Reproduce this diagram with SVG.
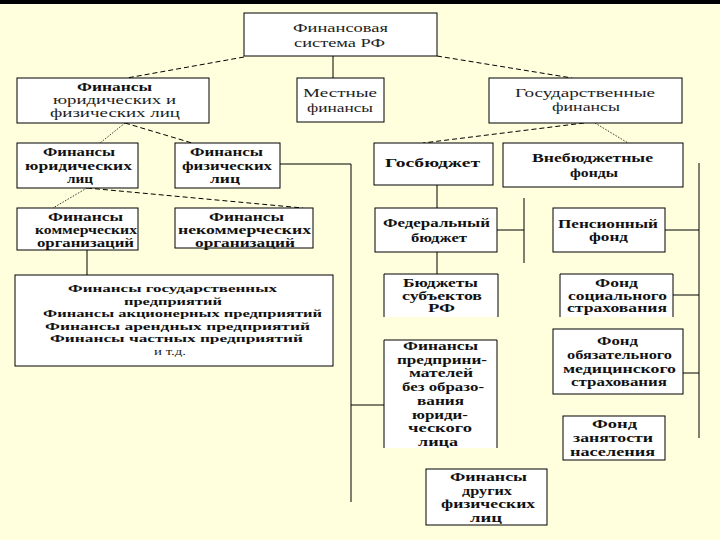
<svg xmlns="http://www.w3.org/2000/svg" width="720" height="540" viewBox="0 0 720 540">
<style>
.bg{fill:#FFFFDE}
.box{fill:#FFFFFF;stroke:#000;stroke-width:1}
.nob{fill:#FFFFFF;stroke:none}
.edge{fill:none;stroke:#000;stroke-width:1}
.ln{fill:none;stroke:#000;stroke-width:1}
.dash{fill:none;stroke:#000;stroke-width:1;stroke-dasharray:5 3}
.dot{fill:none;stroke:#000;stroke-width:0.8;stroke-dasharray:1.5 1.5}
.tx{font-family:"Liberation Serif","DejaVu Serif",serif;font-size:11.5px;fill:#111;font-weight:bold}
.tx .lt{font-weight:normal;fill:#222}
.sm{font-size:10.5px}
</style>
<rect class="bg" x="0" y="0" width="720" height="540"/>
<rect x="0" y="0" width="720" height="4" fill="#000"/>

<g id="connectors">
<path class="dash" d="M244,57 L127,78"/>
<path class="ln" d="M333,56 V78"/>
<path class="dash" d="M437,56 L572,78"/>
<path class="dot" d="M125,123 L100,143"/>
<path class="dash" d="M125,123 L192,143"/>
<path class="ln" d="M280,164 H351 V502"/>
<path class="dot" d="M87,188 L53,208"/>
<path class="dash" d="M87,188 L303,208"/>
<path class="ln" d="M87,250 V275"/>
<path class="dash" d="M592,122 L423,143"/>
<path class="dot" d="M595,123 L628,143"/>
<path class="ln" d="M437,185 V208"/>
<path class="ln" d="M497,230 H524 M524,198 V263"/>
<path class="ln" d="M699,163 V438 M665,230 H699 M673,295 H699 M683,373 H699"/>
<path class="ln" d="M437,252 V274"/>
<path class="ln" d="M351,405 H384"/>
</g>

<g class="tx" font-family="Liberation Serif, DejaVu Serif, serif">
<g id="n-system">
<rect class="box" x="244" y="13" width="193" height="43"/>
<text class="lt" x="293" y="32" textLength="95" lengthAdjust="spacingAndGlyphs">Финансовая</text>
<text class="lt" x="294" y="47" textLength="91" lengthAdjust="spacingAndGlyphs">система РФ</text>
</g>

<g id="n-local">
<rect class="box" x="297" y="78" width="87" height="44"/>
<text class="lt" x="303" y="97" textLength="74" lengthAdjust="spacingAndGlyphs">Местные</text>
<text class="lt" x="307" y="112" textLength="66" lengthAdjust="spacingAndGlyphs">финансы</text>
</g>

<g id="n-state">
<rect class="box" x="489" y="78" width="193" height="45"/>
<text class="lt" x="515" y="97" textLength="140" lengthAdjust="spacingAndGlyphs">Государственные</text>
<text class="lt" x="552" y="111" textLength="68" lengthAdjust="spacingAndGlyphs">финансы</text>
</g>

<g id="n-jurphys">
<rect class="box" x="17" y="78" width="192" height="45"/>
<text x="77" y="91" textLength="75" lengthAdjust="spacingAndGlyphs">Финансы</text>
<text class="lt" x="53" y="104" textLength="123" lengthAdjust="spacingAndGlyphs">юридических и</text>
<text class="lt" x="50" y="117" textLength="130" lengthAdjust="spacingAndGlyphs">физических лиц</text>
</g>

<g id="n-jur">
<rect class="box" x="17" y="143" width="121" height="45"/>
<text x="43" y="156" textLength="72" lengthAdjust="spacingAndGlyphs">Финансы</text>
<text x="25" y="170" textLength="107" lengthAdjust="spacingAndGlyphs">юридических</text>
<text x="67" y="183" textLength="26" lengthAdjust="spacingAndGlyphs">лиц</text>
</g>

<g id="n-phys">
<rect class="box" x="175" y="143" width="105" height="45"/>
<text x="190" y="156" textLength="73" lengthAdjust="spacingAndGlyphs">Финансы</text>
<text x="182" y="170" textLength="90" lengthAdjust="spacingAndGlyphs">физических</text>
<text x="210" y="183" textLength="30" lengthAdjust="spacingAndGlyphs">лиц</text>
</g>

<g id="n-comm">
<rect class="box" x="17" y="208" width="121" height="42"/>
<text x="48" y="221" textLength="75" lengthAdjust="spacingAndGlyphs">Финансы</text>
<text x="35" y="234" textLength="102" lengthAdjust="spacingAndGlyphs">коммерческих</text>
<text x="37" y="247" textLength="97" lengthAdjust="spacingAndGlyphs">организаций</text>
</g>

<g id="n-noncomm">
<rect class="box" x="175" y="208" width="138" height="40"/>
<text x="209" y="221" textLength="75" lengthAdjust="spacingAndGlyphs">Финансы</text>
<text x="178" y="234" textLength="133" lengthAdjust="spacingAndGlyphs">некоммерческих</text>
<text x="195" y="247" textLength="100" lengthAdjust="spacingAndGlyphs">организаций</text>
</g>

<g id="n-enterprises">
<rect class="box" x="15" y="275" width="318" height="91"/>
<text class="sm" x="68" y="292" textLength="209" lengthAdjust="spacingAndGlyphs">Финансы государственных</text>
<text class="sm" x="124" y="304.5" textLength="98" lengthAdjust="spacingAndGlyphs">предприятий</text>
<text class="sm" x="43" y="317" textLength="279" lengthAdjust="spacingAndGlyphs">Финансы акционерных предприятий</text>
<text class="sm" x="45" y="329.5" textLength="265" lengthAdjust="spacingAndGlyphs">Финансы арендных предприятий</text>
<text class="sm" x="50" y="342" textLength="253" lengthAdjust="spacingAndGlyphs">Финансы частных предприятий</text>
<text class="sm lt" x="154" y="354.5" textLength="32" lengthAdjust="spacingAndGlyphs">и т.д.</text>
</g>

<g id="n-gosbudget">
<rect class="box" x="374" y="143" width="119" height="42"/>
<text x="385" y="167" textLength="95" lengthAdjust="spacingAndGlyphs">Госбюджет</text>
</g>

<g id="n-offbudget">
<rect class="box" x="503" y="143" width="180" height="44"/>
<text x="532" y="162" textLength="121" lengthAdjust="spacingAndGlyphs">Внебюджетные</text>
<text x="570" y="177" textLength="48" lengthAdjust="spacingAndGlyphs">фонды</text>
</g>

<g id="n-federal">
<rect class="box" x="375" y="208" width="122" height="44"/>
<text x="383" y="227" textLength="107" lengthAdjust="spacingAndGlyphs">Федеральный</text>
<text x="411" y="242" textLength="56" lengthAdjust="spacingAndGlyphs">бюджет</text>
</g>

<g id="n-pension">
<rect class="box" x="553" y="208" width="112" height="44"/>
<text x="558" y="228" textLength="100" lengthAdjust="spacingAndGlyphs">Пенсионный</text>
<text x="589" y="241" textLength="39" lengthAdjust="spacingAndGlyphs">фонд</text>
</g>

<g id="n-subjects">
<rect class="nob" x="384" y="274" width="114" height="43"/>
<path class="edge" d="M384,317 V274 H498 V317"/>
<text x="403" y="287" textLength="75" lengthAdjust="spacingAndGlyphs">Бюджеты</text>
<text x="402" y="299.5" textLength="80" lengthAdjust="spacingAndGlyphs">субъектов</text>
<text x="428" y="312" textLength="27" lengthAdjust="spacingAndGlyphs">РФ</text>
</g>

<g id="n-social">
<rect class="nob" x="560" y="274" width="113" height="43"/>
<path class="edge" d="M560,317 V274 H673 V317"/>
<text x="595" y="287" textLength="43" lengthAdjust="spacingAndGlyphs">Фонд</text>
<text x="568" y="299.5" textLength="99" lengthAdjust="spacingAndGlyphs">социального</text>
<text x="567" y="312" textLength="100" lengthAdjust="spacingAndGlyphs">страхования</text>
</g>

<g id="n-entrepreneurs">
<rect class="nob" x="384" y="340" width="113" height="108"/>
<path class="edge" d="M384,448 V340 H497 V448"/>
<text x="403" y="350" textLength="75" lengthAdjust="spacingAndGlyphs">Финансы</text>
<text x="397" y="363.7" textLength="90" lengthAdjust="spacingAndGlyphs">предприни-</text>
<text x="409" y="377.4" textLength="64" lengthAdjust="spacingAndGlyphs">мателей</text>
<text x="402" y="391" textLength="82" lengthAdjust="spacingAndGlyphs">без образо-</text>
<text x="417" y="404.8" textLength="47" lengthAdjust="spacingAndGlyphs">вания</text>
<text x="412" y="418.5" textLength="56" lengthAdjust="spacingAndGlyphs">юриди-</text>
<text x="408" y="432" textLength="64" lengthAdjust="spacingAndGlyphs">ческого</text>
<text x="418" y="445.5" textLength="40" lengthAdjust="spacingAndGlyphs">лица</text>
</g>

<g id="n-medical">
<rect class="box" x="553" y="329" width="130" height="65"/>
<text x="597" y="345" textLength="41" lengthAdjust="spacingAndGlyphs">Фонд</text>
<text x="567" y="359" textLength="105" lengthAdjust="spacingAndGlyphs">обязательного</text>
<text x="563" y="372.5" textLength="113" lengthAdjust="spacingAndGlyphs">медицинского</text>
<text x="571" y="386" textLength="96" lengthAdjust="spacingAndGlyphs">страхования</text>
</g>

<g id="n-employment">
<rect class="box" x="563" y="416" width="102" height="44"/>
<text x="592" y="428" textLength="45" lengthAdjust="spacingAndGlyphs">Фонд</text>
<text x="573" y="442" textLength="80" lengthAdjust="spacingAndGlyphs">занятости</text>
<text x="570" y="456" textLength="85" lengthAdjust="spacingAndGlyphs">населения</text>
</g>

<g id="n-otherphys">
<rect class="box" x="426" y="469" width="121" height="56"/>
<text x="450" y="481" textLength="77" lengthAdjust="spacingAndGlyphs">Финансы</text>
<text x="462" y="494.5" textLength="50" lengthAdjust="spacingAndGlyphs">других</text>
<text x="441" y="508" textLength="94" lengthAdjust="spacingAndGlyphs">физических</text>
<text x="470" y="521.5" textLength="32" lengthAdjust="spacingAndGlyphs">лиц</text>
</g>
</g>
</svg>
